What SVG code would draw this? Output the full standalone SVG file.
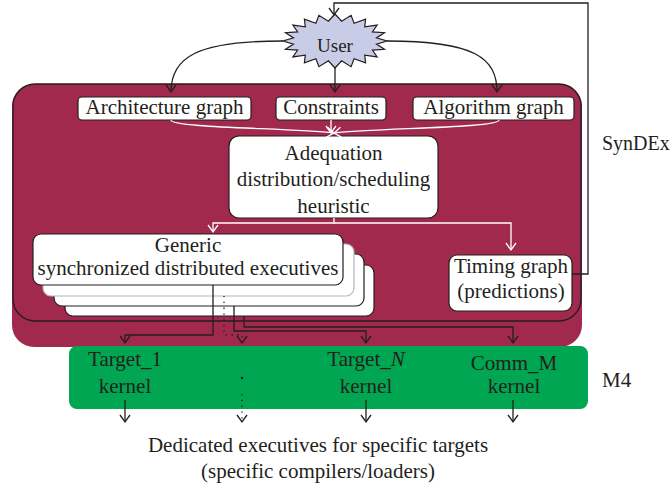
<svg xmlns="http://www.w3.org/2000/svg" width="672" height="486" viewBox="0 0 672 486">
<defs>
<style>
text{font-family:"Liberation Serif","Times New Roman",serif;font-size:21px;fill:#231f20;text-anchor:middle}
.box{fill:#fff;stroke:#231f20;stroke-width:1.2}
.ln{fill:none;stroke:#231f20;stroke-width:1.3}
.wl{fill:none;stroke:#fff;stroke-width:1.3}
.dot{fill:none;stroke:#231f20;stroke-width:1.3;stroke-dasharray:1.3 4.5}
</style>
<marker id="arr" viewBox="-8 -6 10 12" refX="0" refY="0" markerWidth="10" markerHeight="12" markerUnits="userSpaceOnUse" orient="auto">
<path d="M-7,-5 L0,0 L-7,5" fill="none" stroke="#231f20" stroke-width="1.3"/>
</marker>
<marker id="arrw" viewBox="-8 -6 10 12" refX="0" refY="0" markerWidth="10" markerHeight="12" markerUnits="userSpaceOnUse" orient="auto">
<path d="M-7,-5 L0,0 L-7,5" fill="none" stroke="#fff" stroke-width="1.3"/>
</marker>
</defs>

<g id="syndex-region">
<rect x="12" y="84" width="570" height="263" rx="22" fill="#a0294d"/>
<rect x="13" y="84" width="568" height="237" rx="22" fill="none" stroke="#231f20" stroke-width="1.3"/>
<text x="602" y="150" style="text-anchor:start;font-size:20px">SynDEx</text>
</g>

<g id="m4-region">
<rect x="69" y="346" width="519" height="63" rx="8" fill="#00a651"/>
<text x="602" y="387" style="text-anchor:start">M4</text>
</g>

<g id="user">
<polygon points="335,14 341.6,21.2 351.1,15.3 354.1,23.2 365.6,19.2 364.7,26.9 377.1,25.1 372.4,31.9 384.5,32.7 376.5,37.9 387,41 376.5,44.1 384.5,49.3 372.4,50.1 377.1,56.9 364.7,55.1 365.6,62.8 354.1,58.8 351.1,66.7 341.6,60.8 335,68 328.4,60.8 318.9,66.7 315.9,58.8 304.4,62.8 305.3,55.1 292.9,56.9 297.6,50.1 285.5,49.3 293.5,44.1 283,41 293.5,37.9 285.5,32.7 297.6,31.9 292.9,25.1 305.3,26.9 304.4,19.2 315.9,23.2 318.9,15.3 328.4,21.2" fill="#c8cce6" stroke="#231f20" stroke-width="1.2"/>
<text x="335" y="52" style="font-size:19px">User</text>
</g>

<g id="architecture-graph">
<rect class="box" x="78" y="97" width="173" height="23" rx="4"/>
<text x="164.5" y="114">Architecture graph</text>
</g>
<g id="constraints">
<rect class="box" x="276" y="97" width="110" height="23" rx="4"/>
<text x="331" y="114">Constraints</text>
</g>
<g id="algorithm-graph">
<rect class="box" x="413" y="97" width="161" height="23" rx="4"/>
<text x="493.5" y="114">Algorithm graph</text>
</g>

<g id="adequation">
<rect class="box" x="229" y="136" width="209" height="82" rx="10"/>
<text x="333.5" y="160">Adequation</text>
<text x="333.5" y="186">distribution/scheduling</text>
<text x="333.5" y="213">heuristic</text>
</g>

<g id="executives">
<rect class="box" x="65" y="265" width="309" height="51" rx="8"/>
<rect class="box" x="54" y="254" width="310" height="52" rx="8"/>
<rect x="43" y="244" width="311" height="52" rx="8" fill="#fff" stroke="#b4b6c0" stroke-width="1.2"/>
<rect class="box" x="33" y="234" width="310" height="51" rx="8"/>
<text x="188" y="252">Generic</text>
<text x="188" y="275">synchronized distributed executives</text>
</g>

<g id="timing-graph">
<rect class="box" x="449" y="255" width="123" height="56" rx="8"/>
<text x="511" y="273">Timing graph</text>
<text x="511" y="298">(predictions)</text>
</g>

<g id="target-1"><text x="125" y="366">Target_1</text><text x="125" y="393">kernel</text></g>
<g id="target-n"><text x="366" y="366">Target_<tspan font-style="italic">N</tspan></text><text x="366" y="393">kernel</text></g>
<g id="comm-m"><text x="514" y="370">Comm_M</text><text x="514" y="393">kernel</text></g>

<g id="dedicated">
<text x="318" y="452">Dedicated executives for specific targets</text>
<text x="318" y="478">(specific compilers/loaders)</text>
</g>

<g id="connectors">
<path class="ln" d="M572,274 H588 V3 H334 V15" marker-end="url(#arr)"/>
<path class="ln" d="M283,41 C195,41 171,58 171,92" marker-end="url(#arr)"/>
<path class="ln" d="M335,68 V92" marker-end="url(#arr)"/>
<path class="ln" d="M387,41 C475,41 497,58 497,92" marker-end="url(#arr)"/>
<path class="wl" d="M171,120 C171,128 290,128 334,133" marker-end="url(#arrw)"/>
<path class="wl" d="M331,120 V133" marker-end="url(#arrw)"/>
<path class="wl" d="M499,120 C499,128 378,128 334,133" marker-end="url(#arrw)"/>
<path class="wl" d="M334,218 V223 H213 V232" marker-end="url(#arrw)"/>
<path class="wl" d="M334,223 H511 V250" marker-end="url(#arrw)"/>
<path class="ln" d="M213,285 V335 H125 V343" marker-end="url(#arr)"/>
<path class="dot" d="M224,296 V335 H242 V343" marker-end="url(#arr)"/>
<path class="ln" d="M234,306 V331 H366 V343" marker-end="url(#arr)"/>
<path class="ln" d="M244,316 V327 H513 V343" marker-end="url(#arr)"/>
<circle cx="242" cy="378" r="1.2" fill="#231f20"/>
<path class="ln" d="M125,400 V422" marker-end="url(#arr)"/>
<path class="dot" d="M242,394 V422" marker-end="url(#arr)"/>
<path class="ln" d="M366,400 V422" marker-end="url(#arr)"/>
<path class="ln" d="M513,400 V422" marker-end="url(#arr)"/>
</g>
</svg>
